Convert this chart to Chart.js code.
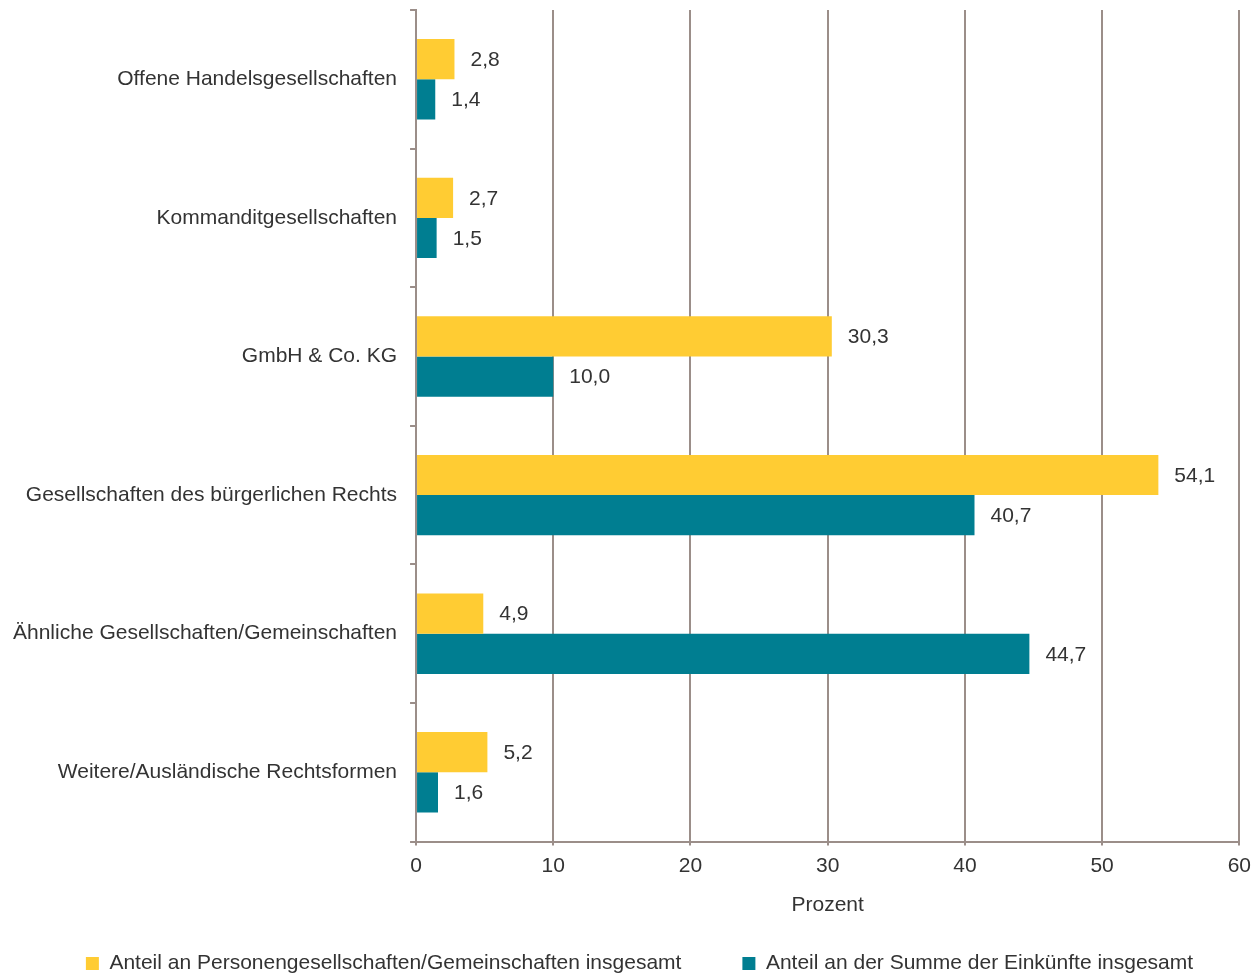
<!DOCTYPE html>
<html>
<head>
<meta charset="utf-8">
<script src="https://cdn.jsdelivr.net/npm/chart.js@4/dist/chart.umd.min.js"></script>
<style>
  html, body { margin: 0; padding: 0; background: #fff; }
  #wrap { width: 1259px; height: 976px; }
</style>
</head>
<body>
<div id="wrap"><canvas id="chart"></canvas></div>
<script>
const categories = [
    'Offene Handelsgesellschaften',
    'Kommanditgesellschaften',
    'GmbH & Co. KG',
    'Gesellschaften des bürgerlichen Rechts',
    'Ähnliche Gesellschaften/Gemeinschaften',
    'Weitere/Ausländische Rechtsformen'
];
const seriesNames = [
    'Anteil an Personengesellschaften/Gemeinschaften insgesamt',
    'Anteil an der Summe der Einkünfte insgesamt'
];
const shareCompanies = [2.8, 2.7, 30.3, 54.1, 4.9, 5.2];
const shareIncome = [1.4, 1.5, 10.0, 40.7, 44.7, 1.6];
const xTicks = [0, 10, 20, 30, 40, 50, 60];

const gridColor = '#9b8e89';
const textColor = '#333333';
const fontFamily = '"Liberation Sans", Arial, sans-serif';
const fontSize = 21;

// value labels right of each bar, German decimal comma
const valueLabels = {
    id: 'valueLabels',
    afterDatasetsDraw(chart) {
        const ctx = chart.ctx;
        ctx.save();
        ctx.fillStyle = textColor;
        ctx.font = fontSize + 'px ' + fontFamily;
        ctx.textAlign = 'left';
        ctx.textBaseline = 'middle';
        chart.data.datasets.forEach((ds, i) => {
            chart.getDatasetMeta(i).data.forEach((bar, j) => {
                const txt = ds.data[j].toFixed(1).replace('.', ',');
                ctx.fillText(txt, bar.x + 16, bar.y + 1);
            });
        });
        ctx.restore();
    }
};

// legend in the original sits a bit right of centre
const legendShift = {
    id: 'legendShift',
    afterLayout(chart) {
        chart.legend.left += 17;
        chart.legend.right += 17;
    }
};

const ctx = document.getElementById('chart').getContext('2d');
const chart = new Chart(ctx, {
    type: 'bar',
    data: {
        labels: categories,
        datasets: [{
            label: seriesNames[0],
            data: shareCompanies,
            backgroundColor: '#ffcc33',
            categoryPercentage: 0.58,
            barPercentage: 1.0
        }, {
            label: seriesNames[1],
            data: shareIncome,
            backgroundColor: '#007e91',
            categoryPercentage: 0.58,
            barPercentage: 1.0
        }]
    },
    options: {
        indexAxis: 'y',
        responsive: true,
        maintainAspectRatio: false,
        animation: false,
        layout: {
            padding: { top: 10, right: 14, left: 0, bottom: -8 }
        },
        scales: {
            x: {
                min: 0,
                max: 60,
                afterBuildTicks: (axis) => {
                    axis.ticks = xTicks.map(v => ({ value: v }));
                },
                grid: {
                    color: gridColor,
                    lineWidth: 2,
                    drawTicks: true,
                    tickLength: 4
                },
                border: { color: gridColor, width: 2 },
                ticks: {
                    color: textColor,
                    font: { family: fontFamily, size: fontSize },
                    padding: 8
                },
                title: {
                    display: true,
                    text: 'Prozent',
                    color: textColor,
                    font: { family: fontFamily, size: fontSize },
                    padding: { top: 6, bottom: -26 }
                }
            },
            y: {
                offset: true,
                afterFit: (scale) => {
                    scale.paddingTop = 0;
                    scale.paddingBottom = 0;
                },
                grid: {
                    offset: true,
                    drawOnChartArea: false,
                    drawTicks: true,
                    tickLength: 6,
                    color: gridColor,
                    lineWidth: 2
                },
                border: { color: gridColor, width: 2 },
                ticks: {
                    color: textColor,
                    font: { family: fontFamily, size: fontSize },
                    padding: 13
                }
            }
        },
        plugins: {
            legend: {
                position: 'bottom',
                labels: {
                    boxWidth: 13,
                    boxHeight: 13,
                    padding: 61,
                    color: textColor,
                    font: { family: fontFamily, size: fontSize }
                }
            },
            tooltip: { enabled: false }
        }
    },
    plugins: [valueLabels, legendShift]
});
</script>
</body>
</html>
